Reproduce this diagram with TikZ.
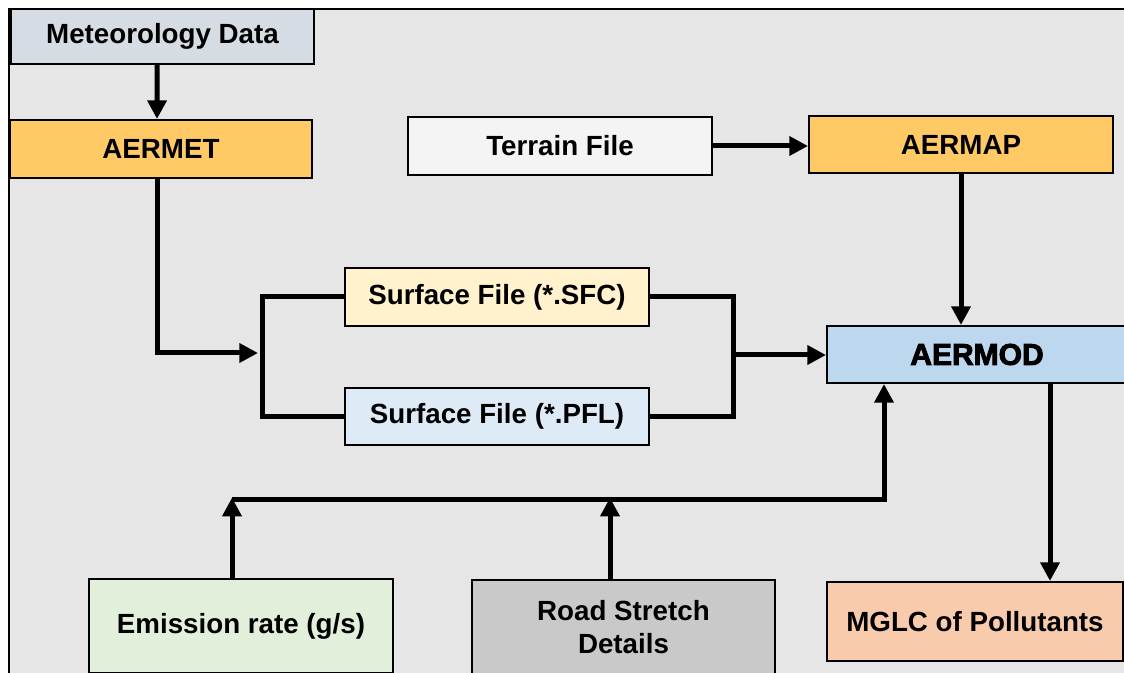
\documentclass[tikz,border=0pt]{standalone}
\usepackage{fontspec}
\setmainfont{Liberation Sans}
\newfontfamily\heavyfont{Liberation Sans Bold}[FakeBold=3]
\usetikzlibrary{arrows.meta,calc}
\definecolor{bggray}{HTML}{E6E6E6}
\definecolor{metc}{HTML}{D6DCE4}
\definecolor{orangec}{HTML}{FFC966}
\definecolor{terrc}{HTML}{F4F4F4}
\definecolor{sfcc}{HTML}{FFF2CC}
\definecolor{pflc}{HTML}{DEEBF7}
\definecolor{modc}{HTML}{BDD7EE}
\definecolor{mglcc}{HTML}{F8CBAD}
\definecolor{emic}{HTML}{E2EFDA}
\definecolor{roadc}{HTML}{C9C9C9}
\begin{document}
\begin{tikzpicture}[x=0.75pt,y=-0.75pt,
  box/.style={draw=black,line width=1.5pt,inner sep=0pt,align=center,
    font=\fontsize{20.8}{24.5}\selectfont\bfseries},
  conn/.style={line width=3.75pt,line cap=butt,line join=miter},
  arr/.style={conn,-{Triangle[length=14pt,width=14pt]}}]
\useasboundingbox (0,0) rectangle (1124,673);
\clip (0,0) rectangle (1124,673);
\draw[fill=bggray,line width=1.5pt] (9,9) rectangle (1200,720);

\node[box,fill=metc,minimum width=227.25pt,minimum height=41.25pt] (met) at (162.5,36.5) {Meteorology Data};
\node[box,fill=orangec,minimum width=226.5pt,minimum height=43.5pt] (aermet) at (161,149) {AERMET};
\node[box,fill=terrc,minimum width=228pt,minimum height=43.5pt] (terrain) at (560,146) {Terrain File};
\node[box,fill=orangec,minimum width=228pt,minimum height=42.75pt] (aermap) at (961,145) {AERMAP};
\node[box,fill=sfcc,minimum width=228pt,minimum height=43.5pt] (sfc) at (497,297) {Surface File (*.SFC)};
\node[box,fill=pflc,minimum width=228pt,minimum height=42.75pt] (pfl) at (497,416.5) {Surface File (*.PFL)};
\node[box,fill=modc,minimum width=225pt,minimum height=42.75pt,font=\fontsize{22.5}{26}\selectfont\heavyfont] (aermod) at (977,354.5) {AERMOD};
\node[box,fill=mglcc,minimum width=222pt,minimum height=59.25pt] (mglc) at (975,621.5) {MGLC of Pollutants};
\node[box,fill=emic,minimum width=228pt,minimum height=70.5pt] (emission) at (241,626) {Emission rate (g/s)};
\node[box,fill=roadc,minimum width=227.25pt,minimum height=70.5pt] (road) at (623.5,627) {Road Stretch\\Details};

\coordinate (lb) at (262,355);
\coordinate (lbin) at (258,353);
\coordinate (rb) at (733,355);
\coordinate (mx) at (1050,0);
\coordinate (ex) at (232,499);
\coordinate (rx) at (610,499);
\coordinate (fb) at (884,499);

\draw[arr] ([xshift=-4pt]met.south) -- ([xshift=-3pt]aermet.north);
\draw[arr] ([xshift=-3pt]aermet.south) |- (lbin);
\draw[conn] (sfc.west) -| (lb) |- (pfl.west);
\draw[conn] (sfc.east) -| (rb) |- (pfl.east);
\draw[arr] (rb) -- (rb -| aermod.west);
\draw[arr] (terrain.east) -- (terrain.east -| aermap.west);
\draw[arr] (aermap.south) -- (aermap.south |- aermod.north);
\draw[arr] (aermod.south -| mx) -- (mglc.north -| mx);
\draw[arr] (emission.north -| ex) -- ([yshift=1pt]ex);
\draw[arr] (road.north -| rx) -- ([yshift=1pt]rx);
\draw[arr] (ex) -| (aermod.south -| fb);
\end{tikzpicture}
\end{document}
